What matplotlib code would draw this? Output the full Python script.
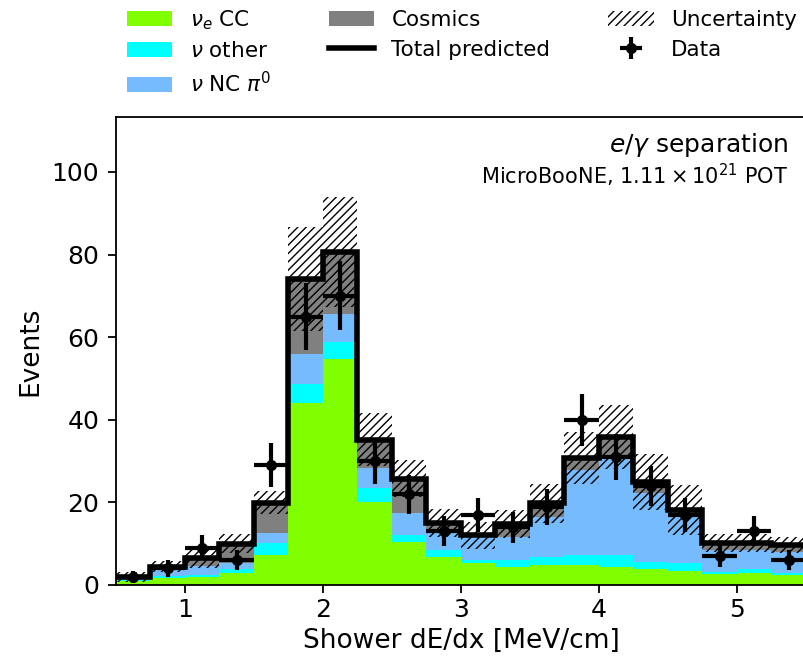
import numpy as np
import matplotlib
matplotlib.use("Agg")
import matplotlib.pyplot as plt
from matplotlib.patches import Patch
from matplotlib.lines import Line2D

# Bin edges (Shower dE/dx, MeV/cm)
edges = np.arange(0.5, 5.5001, 0.25)

nue_cc = [1.0, 1.7, 2.0, 2.9, 7.3, 44.1, 54.7, 20.1, 10.4, 6.8,
          5.3, 4.4, 4.8, 4.8, 4.4, 3.8, 3.4, 2.7, 2.9, 2.4]
nu_other = [0.3, 0.5, 0.5, 1.0, 2.9, 4.6, 4.1, 3.4, 1.7, 1.7,
            0.8, 1.6, 2.0, 2.5, 2.9, 1.8, 1.9, 0.5, 0.9, 0.5]
nu_nc_pi0 = [0.5, 1.5, 2.0, 1.5, 2.4, 7.2, 6.8, 4.8, 5.3, 4.3,
             5.5, 5.6, 9.7, 20.5, 23.5, 16.7, 12.1, 5.3, 4.7, 5.1]
cosmics = [0.2, 0.7, 2.0, 4.6, 7.3, 18.1, 15.0, 6.9, 8.3, 2.2,
           0.4, 3.2, 3.3, 2.9, 5.0, 2.6, 0.8, 1.6, 1.6, 1.7]
uncert = [1.2, 1.3, 2.5, 2.3, 2.8, 12.6, 13.4, 6.5, 4.5, 3.3,
          3.2, 3.4, 4.7, 6.3, 7.8, 6.8, 6.0, 2.2, 2.2, 2.0]
data = [2, 4, 9, 6, 29, 65, 70, 30, 22, 13,
        17, 14, 19, 40, 31, 24, 17, 7, 13, 6]

labels = [r'$\nu_e$ CC', r'$\nu$ other', r'$\nu$ NC $\pi^0$', 'Cosmics']
colors = ['#7fff00', '#00ffff', '#75bbfd', '#808080']

fig = plt.figure(figsize=(8.04, 6.61), dpi=100)
ax = fig.add_axes([116/804, (661-585)/661, 690/804, 468/661])

centers = 0.5 * (edges[:-1] + edges[1:])
width = edges[1] - edges[0]
bottom = np.zeros(len(centers))
for vals, col in zip([nue_cc, nu_other, nu_nc_pi0, cosmics], colors):
    vals = np.asarray(vals, float)
    ax.stairs(bottom + vals, edges, baseline=bottom, fill=True, color=col, lw=0)
    bottom = bottom + vals
total = bottom
unc = np.asarray(uncert, float)

ax.bar(centers, 2*unc, bottom=total-unc, width=width, fill=False,
       hatch='////', lw=0, edgecolor='k')
ax.stairs(total, edges, color='k', lw=4, baseline=None)

d = np.asarray(data, float)
eb = ax.errorbar(centers, d, yerr=np.sqrt(d), xerr=width/2, fmt='o', color='k',
                 ms=7, lw=3, capsize=0)

ax.set_xlim(0.5, 5.5)
ax.set_ylim(0, 113.3)
ax.set_xticks([1, 2, 3, 4, 5])
ax.set_yticks([0, 20, 40, 60, 80, 100])
ax.tick_params(labelsize=18, width=1.3, length=6)
ax.tick_params(axis='y', pad=6)
ax.set_xlabel('Shower dE/dx [MeV/cm]', fontsize=19)
ax.set_ylabel('Events', fontsize=19, labelpad=6)

ax.text(0.974, 0.94, r'$e/\gamma$ separation', transform=ax.transAxes,
        ha='right', va='center', fontsize=18)
ax.text(0.974, 0.876, r'MicroBooNE, $1.11 \times 10^{21}$ POT', transform=ax.transAxes,
        ha='right', va='center', fontsize=15)

handles = [Patch(facecolor=c, lw=0) for c in colors[:3]]
handles += [Patch(facecolor=colors[3], lw=0),
            Line2D([], [], color='k', lw=4),
            Patch(facecolor='none', hatch='////', lw=0),
            eb]
leg_labels = labels[:3] + ['Cosmics', 'Total predicted', 'Uncertainty', 'Data']
ax.legend(handles, leg_labels, ncol=3, loc='lower left', bbox_to_anchor=(-0.012, 1.003),
          frameon=False, fontsize=15.5, columnspacing=2.7, handlelength=2.1,
          labelspacing=0.45)

for s in ax.spines.values():
    s.set_linewidth(1.3)

fig.savefig('out.png', dpi=100)
